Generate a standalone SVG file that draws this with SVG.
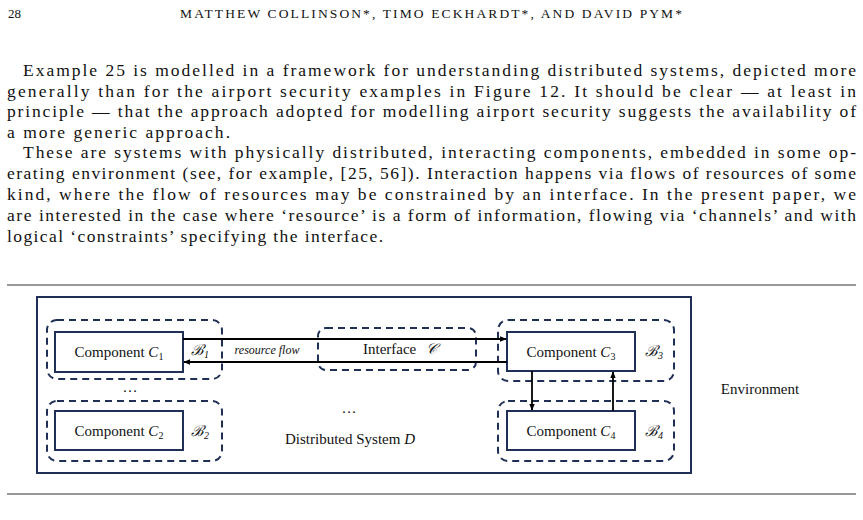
<svg xmlns="http://www.w3.org/2000/svg" width="863" height="520" viewBox="0 0 863 520">
<defs>
<style>
text{font-family:"Liberation Serif","DejaVu Serif",serif;fill:#111}
.p{font-size:17.5px}
.d{font-size:15px}
.box{fill:#fff;stroke:#1f2f55;stroke-width:2}
.dash{fill:none;stroke:#1f2f55;stroke-width:2;stroke-dasharray:7 5}
.ln{stroke:#000;stroke-width:1.8;fill:none}
.rule{stroke:#333;stroke-width:1.2}
</style>
<marker id="ah" viewBox="0 0 10 10" refX="9" refY="5" markerWidth="7" markerHeight="7" orient="auto" markerUnits="userSpaceOnUse"><path d="M0,1 L10,5 L0,9 Z" fill="#000"/></marker>
</defs>
<rect width="863" height="520" fill="#fff"/>
<text x="8" y="18" font-size="13">28</text>
<text x="180" y="18" font-size="13.5" textLength="502" lengthAdjust="spacing">MATTHEW COLLINSON*, TIMO ECKHARDT*, AND DAVID PYM*</text>
<g class="p">
<text x="23" y="76" textLength="833" lengthAdjust="spacing">Example 25 is modelled in a framework for understanding distributed systems, depicted more</text>
<text x="7" y="97" textLength="849" lengthAdjust="spacing">generally than for the airport security examples in Figure 12. It should be clear — at least in</text>
<text x="7" y="117" textLength="849" lengthAdjust="spacing">principle — that the approach adopted for modelling airport security suggests the availability of</text>
<text x="7" y="138" textLength="223" lengthAdjust="spacing">a more generic approach.</text>
<text x="23" y="158" textLength="833" lengthAdjust="spacing">These are systems with physically distributed, interacting components, embedded in some op-</text>
<text x="7" y="179" textLength="849" lengthAdjust="spacing">erating environment (see, for example, [25, 56]). Interaction happens via flows of resources of some</text>
<text x="7" y="200" textLength="849" lengthAdjust="spacing">kind, where the flow of resources may be constrained by an interface. In the present paper, we</text>
<text x="7" y="221" textLength="849" lengthAdjust="spacing">are interested in the case where ‘resource’ is a form of information, flowing via ‘channels’ and with</text>
<text x="7" y="242" textLength="376" lengthAdjust="spacing">logical ‘constraints’ specifying the interface.</text>
</g>
<line class="rule" x1="7" y1="285" x2="856" y2="285"/>
<line class="rule" x1="7" y1="494" x2="856" y2="494"/>
<g id="system"><rect x="37" y="297" width="654" height="176" fill="none" stroke="#1f2f55" stroke-width="2"/>
<text class="d" x="349" y="413" text-anchor="middle">…</text>
<text class="d" x="350" y="444" text-anchor="middle">Distributed System <tspan font-style="italic">D</tspan></text>
<text class="d" x="130" y="392" text-anchor="middle">…</text></g>
<g id="env"><text class="d" x="760" y="394" text-anchor="middle">Environment</text></g>
<g id="b1"><rect class="dash" x="47" y="320" width="175" height="59" rx="10"/>
<rect class="box" x="55" y="332" width="128" height="40"/>
<text class="d" x="119" y="357" text-anchor="middle">Component <tspan font-style="italic">C</tspan><tspan font-size="10" dy="3">1</tspan></text>
<text class="d" x="200" y="355" text-anchor="middle" font-style="italic">ℬ<tspan font-size="10" dy="3">1</tspan></text></g>
<g id="b2"><rect class="dash" x="47" y="401" width="175" height="60" rx="10"/>
<rect class="box" x="55" y="411" width="128" height="39"/>
<text class="d" x="119" y="436" text-anchor="middle">Component <tspan font-style="italic">C</tspan><tspan font-size="10" dy="3">2</tspan></text>
<text class="d" x="200" y="436" text-anchor="middle" font-style="italic">ℬ<tspan font-size="10" dy="3">2</tspan></text></g>
<g id="iface"><rect class="dash" x="318" y="328" width="158" height="42" rx="8"/>
<text class="d" x="400" y="354" text-anchor="middle">Interface <tspan font-style="italic" dx="6">𝒞</tspan></text></g>
<g id="b3"><rect class="dash" x="498" y="320" width="176" height="61" rx="10"/>
<rect class="box" x="507" y="332" width="128" height="39"/>
<text class="d" x="571" y="357" text-anchor="middle">Component <tspan font-style="italic">C</tspan><tspan font-size="10" dy="3">3</tspan></text>
<text class="d" x="654" y="356" text-anchor="middle" font-style="italic">ℬ<tspan font-size="10" dy="3">3</tspan></text></g>
<g id="b4"><rect class="dash" x="498" y="401" width="176" height="60" rx="10"/>
<rect class="box" x="507" y="411" width="128" height="39"/>
<text class="d" x="571" y="436" text-anchor="middle">Component <tspan font-style="italic">C</tspan><tspan font-size="10" dy="3">4</tspan></text>
<text class="d" x="654" y="436" text-anchor="middle" font-style="italic">ℬ<tspan font-size="10" dy="3">4</tspan></text></g>
<g id="connectors">
<line class="ln" x1="183" y1="339" x2="506" y2="339" marker-end="url(#ah)"/>
<line class="ln" x1="507" y1="362" x2="184" y2="362" marker-end="url(#ah)"/>
<line class="ln" x1="532" y1="371" x2="532" y2="410" marker-end="url(#ah)"/>
<line class="ln" x1="613" y1="411" x2="613" y2="372" marker-end="url(#ah)"/>
<text x="267" y="354" font-size="12" font-style="italic" text-anchor="middle">resource flow</text>
</g>
</svg>
